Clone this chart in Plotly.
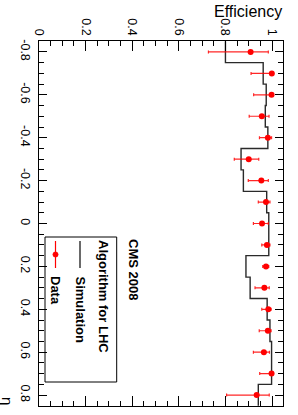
import plotly.graph_objects as go

# ---- data ----
eta = [-0.8, -0.7, -0.6, -0.5, -0.4, -0.3, -0.2, -0.1, 0.0,
       0.1, 0.2, 0.3, 0.4, 0.5, 0.6, 0.7, 0.8]
bin_half_width = 0.05
data_eff = [0.908, 0.999, 0.998, 0.956, 0.982, 0.900, 0.954, 0.974, 0.957,
            0.978, 0.974, 0.967, 0.984, 0.982, 0.965, 0.998, 0.934]
data_err_low = [0.181, 0.089, 0.077, 0.054, 0.036, 0.062, 0.056, 0.033, 0.037,
                0.022, 0.014, 0.040, 0.028, 0.037, 0.045, 0.051, 0.129]
data_err_high = [0.076, 0.001, 0.002, 0.031, 0.016, 0.043, 0.030, 0.017, 0.027,
                 0.013, 0.012, 0.021, 0.012, 0.014, 0.024, 0.002, 0.054]
sim_eff = [0.800, 0.962, 0.975, 0.971, 0.982, 0.867, 0.877, 0.977, 0.986,
           0.986, 0.888, 0.906, 0.979, 0.991, 0.998, 0.998, 0.941]

eff_ticks = [0, 0.2, 0.4, 0.6, 0.8, 1.0]
eff_ticklabels = ["0", "0.2", "0.4", "0.6", "0.8", "1"]
eta_ticks = [-0.8, -0.6, -0.4, -0.2, 0.0, 0.2, 0.4, 0.6, 0.8]
eta_ticklabels = ["-0.8", "-0.6", "-0.4", "-0.2", "0", "0.2", "0.4", "0.6", "0.8"]

legend_header = "Algorithm for LHC"
legend_sim = "Simulation"
legend_data = "Data"
label_cms = "CMS 2008"

# ---- figure geometry ----
W, H = 298, 415
ML, MR, MT, MB = 39, 15, 41, 9
PW, PH = W - ML - MR, H - MT - MB

def px(x):
    return (x - ML) / PW

def py(y):
    return 1 - (y - MT) / PH

FONT = "Liberation Sans, Arial, Helvetica, sans-serif"

fig = go.Figure()

# simulation step histogram (vertical steps along eta)
step_x = sim_eff + [sim_eff[-1]]
step_y = [e - bin_half_width for e in eta] + [eta[-1] + bin_half_width]
fig.add_trace(go.Scatter(
    x=step_x, y=step_y, mode="lines", line=dict(color="#2a2a2a", width=1.4, shape="vh"),
    showlegend=False, hoverinfo="skip"))

# data points
fig.add_trace(go.Scatter(
    x=data_eff, y=eta, mode="markers",
    marker=dict(color="red", size=6),
    error_x=dict(type="data", symmetric=False, array=data_err_high,
                 arrayminus=data_err_low, color="rgba(255,0,0,0.85)",
                 thickness=1.2, width=1.5),
    showlegend=False))

fig.update_xaxes(
    range=[0, 1.047], side="top", tickvals=eff_ticks, ticktext=eff_ticklabels,
    tickangle=90, ticks="inside", ticklen=10, tickwidth=1, tickcolor="black",
    minor=dict(dtick=0.05, tick0=0, ticks="inside", ticklen=5, tickcolor="black", tickwidth=1),
    showline=True, linecolor="black", linewidth=1, mirror="ticks",
    showgrid=False, zeroline=False, automargin=False,
    tickfont=dict(family=FONT, size=12.5, color="black"))

fig.update_yaxes(
    range=[0.851, -0.851], tickvals=eta_ticks, ticktext=eta_ticklabels,
    tickangle=90, ticks="inside", ticklen=8, tickwidth=1, tickcolor="black",
    minor=dict(dtick=0.05, tick0=0, ticks="inside", ticklen=5, tickcolor="black", tickwidth=1),
    showline=True, linecolor="black", linewidth=1, mirror="ticks",
    showgrid=False, zeroline=False, automargin=False, ticklabelstandoff=2,
    tickfont=dict(family=FONT, size=12.5, color="black"))

shapes = []
annotations = []

# axis titles
annotations.append(dict(text="Efficiency", xref="paper", yref="paper",
                        x=px(284), y=py(1), xanchor="right", yanchor="top",
                        showarrow=False, font=dict(family=FONT, size=16, color="black")))
annotations.append(dict(text="η", xref="paper", yref="paper",
                        x=px(8), y=py(401), xanchor="center", yanchor="middle",
                        textangle=90, showarrow=False,
                        font=dict(family=FONT, size=15, color="black")))

# legend box
shapes.append(dict(type="rect", xref="paper", yref="paper",
                   x0=px(45), x1=px(116.7), y0=py(382), y1=py(237),
                   line=dict(color="black", width=1), fillcolor="rgba(0,0,0,0)"))
annotations.append(dict(text="<b>%s</b>" % legend_header, xref="paper", yref="paper",
                        x=px(103.5), y=py(238), xanchor="center", yanchor="top",
                        textangle=90, showarrow=False,
                        font=dict(family=FONT, size=13, color="black")))
annotations.append(dict(text="<b>%s</b>" % legend_sim, xref="paper", yref="paper",
                        x=px(80), y=py(274), xanchor="center", yanchor="top",
                        textangle=90, showarrow=False,
                        font=dict(family=FONT, size=13, color="black")))
annotations.append(dict(text="<b>%s</b>" % legend_data, xref="paper", yref="paper",
                        x=px(55.5), y=py(274), xanchor="center", yanchor="top",
                        textangle=90, showarrow=False,
                        font=dict(family=FONT, size=13, color="black")))
shapes.append(dict(type="line", xref="paper", yref="paper",
                   x0=px(80), x1=px(80), y0=py(241), y1=py(268),
                   line=dict(color="#2a2a2a", width=1.4)))
shapes.append(dict(type="line", xref="paper", yref="paper",
                   x0=px(55.5), x1=px(55.5), y0=py(241), y1=py(268),
                   line=dict(color="red", width=1.2)))
shapes.append(dict(type="circle", xref="paper", yref="paper",
                   x0=px(53), x1=px(58), y0=py(252), y1=py(257),
                   line=dict(color="red", width=1), fillcolor="red"))

# CMS label
annotations.append(dict(text="<b>%s</b>" % label_cms, xref="paper", yref="paper",
                        x=px(133.5), y=py(237), xanchor="center", yanchor="top",
                        textangle=90, showarrow=False,
                        font=dict(family=FONT, size=13, color="black")))

fig.update_layout(
    width=W, height=H, margin=dict(l=ML, r=MR, t=MT, b=MB),
    paper_bgcolor="white", plot_bgcolor="white",
    shapes=shapes, annotations=annotations, showlegend=False)

fig.write_html("out.html", config={"displayModeBar": False},
               post_script="document.body.style.margin='0';document.body.style.overflow='hidden';")
